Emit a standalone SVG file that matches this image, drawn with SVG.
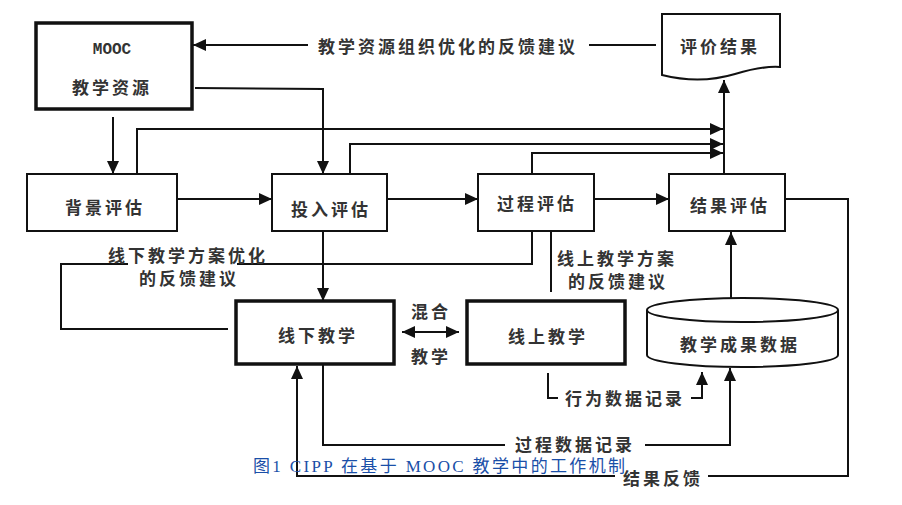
<svg xmlns="http://www.w3.org/2000/svg" width="902" height="505" viewBox="0 0 902 505">
<defs>
<marker id="ah" markerUnits="userSpaceOnUse" markerWidth="14" markerHeight="14" viewBox="0 0 14 14" refX="13" refY="7" orient="auto">
<path d="M0,1 L13,7 L0,13 Z" fill="#111"/>
</marker>
<marker id="ahs" markerUnits="userSpaceOnUse" markerWidth="14" markerHeight="14" viewBox="0 0 14 14" refX="1" refY="7" orient="auto">
<path d="M14,1 L1,7 L14,13 Z" fill="#111"/>
</marker>
</defs>
<style>
.box{fill:#fff;stroke:#111;stroke-width:2}
.thick{fill:#fff;stroke:#111;stroke-width:3.5}
.ln{fill:none;stroke:#111;stroke-width:2}
.ar{fill:none;stroke:#111;stroke-width:2;marker-end:url(#ah)}
.t{font-family:"Noto Sans CJK SC","Noto Sans",sans-serif;font-size:17px;font-weight:bold;fill:#333;letter-spacing:3px;dominant-baseline:central}
.m{font-family:"Liberation Mono","Liberation Serif",monospace;font-size:16px;font-weight:bold;fill:#333;dominant-baseline:central}
.cap{font-family:"Liberation Serif","Noto Sans CJK SC",serif;font-size:17px;fill:#1a4fa8;dominant-baseline:central}
</style>
<rect width="902" height="505" fill="#fff"/>

<g id="connectors">
<line class="ar" x1="308" y1="45" x2="193" y2="45"/>
<line class="ln" x1="589" y1="45" x2="656" y2="45"/>
<line class="ar" x1="113" y1="117" x2="113" y2="174"/>
<polyline class="ar" points="195,88 323,89 323,174"/>
<line class="ar" x1="173" y1="199" x2="272" y2="199"/>
<line class="ar" x1="387" y1="199" x2="478" y2="199"/>
<line class="ar" x1="594" y1="199" x2="669" y2="199"/>
<polyline class="ar" points="137,174 137,129 723,129"/>
<polyline class="ar" points="350,174 350,144 723,144"/>
<polyline class="ar" points="532,174 532,153 723,153"/>
<line class="ar" x1="724" y1="174" x2="724" y2="80"/>
<line class="ar" x1="323" y1="231" x2="323" y2="301"/>
<polyline class="ln" points="532,231 532,264 237,264"/>
<polyline class="ln" points="128,264 61,264 61,329 228,329"/>
<line class="ln" x1="551" y1="231" x2="551" y2="292"/>
<line class="ar" x1="402" y1="332" x2="459" y2="332" style="marker-start:url(#ahs)"/>
<polyline class="ln" points="548,373 548,398 558,398"/>
<polyline class="ar" points="691,398 702,398 702,372"/>
<polyline class="ln" points="323,364 323,445 505,445"/>
<polyline class="ar" points="645,445 730,445 730,368"/>
<line class="ar" x1="731" y1="298" x2="731" y2="232"/>
<polyline class="ln" points="785,199 848,199 848,476 708,476"/>
<polyline class="ar" points="615,476 297,476 297,366"/>
</g>

<g id="mooc">
<rect class="thick" x="36" y="23" width="156" height="86"/>
<text class="m" x="112" y="50" text-anchor="middle">MOOC</text>
<text class="t" x="72" y="86">教学资源</text>
</g>
<g id="label-top"><text class="t" x="318" y="45">教学资源组织优化的反馈建议</text></g>
<g id="result-doc">
<path class="box" d="M662,14 H780 V67 C766,66 752,69 735,74 C715,80 690,82 662,75 Z"/>
<text class="t" x="680" y="45">评价结果</text>
</g>
<g id="bg-eval">
<rect class="box" x="27" y="174" width="150" height="57"/>
<text class="t" x="65" y="206">背景评估</text>
</g>
<g id="input-eval">
<rect class="box" x="272" y="174" width="115" height="57"/>
<text class="t" x="291" y="208">投入评估</text>
</g>
<g id="process-eval">
<rect class="box" x="478" y="174" width="116" height="57"/>
<text class="t" x="497" y="202">过程评估</text>
</g>
<g id="outcome-eval">
<rect class="box" x="669" y="174" width="116" height="57"/>
<text class="t" x="690" y="204">结果评估</text>
</g>
<g id="label-offline-fb">
<text class="t" x="108" y="254">线下教学方案优化</text>
<text class="t" x="139" y="277">的反馈建议</text>
</g>
<g id="label-online-fb">
<text class="t" x="557" y="257">线上教学方案</text>
<text class="t" x="568" y="280">的反馈建议</text>
</g>
<g id="offline">
<rect class="thick" x="236" y="301" width="158" height="63"/>
<text class="t" x="278" y="334">线下教学</text>
</g>
<g id="blend">
<text class="t" x="411" y="310">混合</text>
<text class="t" x="411" y="355">教学</text>
</g>
<g id="online">
<rect class="thick" x="467" y="301" width="158" height="63"/>
<text class="t" x="508" y="335">线上教学</text>
</g>
<g id="data">
<path class="box" d="M647,310 A95.5,12 0 0 1 838,310 V355 A95.5,12 0 0 1 647,355 Z"/>
<path class="ln" d="M647,310 A95.5,12 0 0 0 838,310"/>
<text class="t" x="680" y="343">教学成果数据</text>
</g>
<g id="labels-bottom">
<text class="t" x="565" y="397">行为数据记录</text>
<text class="t" x="515" y="443">过程数据记录</text>
<text class="t" x="623" y="477">结果反馈</text>
</g>
<g id="caption">
<text class="cap" x="253" y="466" textLength="372" lengthAdjust="spacing">图1 CIPP 在基于 MOOC 教学中的工作机制</text>
</g>
</svg>
